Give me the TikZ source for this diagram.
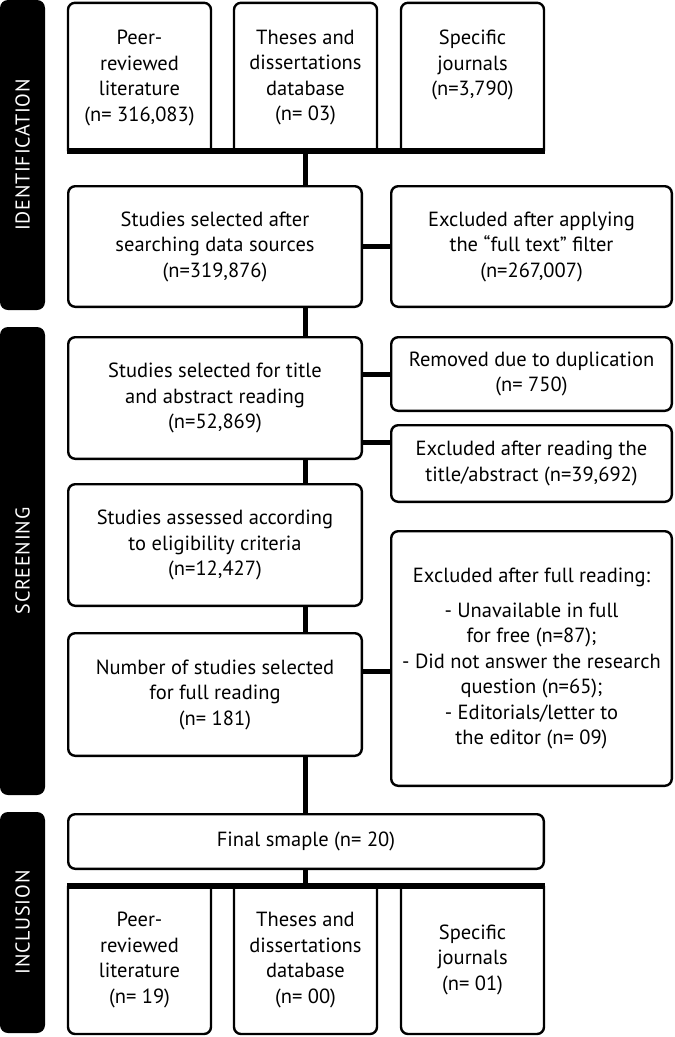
\documentclass[tikz,border=0pt]{standalone}
\usepackage{fontspec}
\setmainfont{PT Sans}
\newfontfamily\phasefont[LetterSpace=4]{PT Sans}
\newcommand\mtxt{\fontsize{20.5}{25.5}\selectfont}
\begin{document}
\begin{tikzpicture}[x=1pt,y=-1pt,
  boxline/.style={line width=2.4pt, rounded corners=7pt},
  box/.style={draw, line width=2.4pt, rounded corners=7pt, inner sep=0pt, align=center, font=\mtxt},
  holder/.style={inner sep=0pt, align=center, font=\mtxt},
  txt/.style={inner sep=0pt, align=center, font=\mtxt},
  link/.style={line width=5pt},
  spine/.style={line width=4.5pt},
  bar/.style={line width=6pt},
  phase/.style={fill=black, rounded corners=8pt, inner sep=0pt},
  phaselabel/.style={text=white, rotate=90, inner sep=0pt, font=\phasefont\fontsize{20}{24}\selectfont}
]
\useasboundingbox (0,0) rectangle (675,1037);

% phase bars
\node[phase, minimum width=45pt, minimum height=310pt] (p1) at (22.5,155) {};
\node[phase, minimum width=45pt, minimum height=468pt] (p2) at (22.5,561) {};
\node[phase, minimum width=45pt, minimum height=221pt] (p3) at (22.5,922.5) {};
\node[phaselabel] (p1l) at (p1.center) {IDENTIFICATION};
\node[phaselabel] (p2l) at (p2.center) {SCREENING};
\node[phaselabel] (p3l) at (p3.center) {INCLUSION};

% top source boxes
\node[holder, minimum width=142.6pt, minimum height=148pt] (t1) at (139.5,77) {};
\node[holder, minimum width=142.6pt, minimum height=148pt] (t2) at (305.5,77) {};
\node[holder, minimum width=142.6pt, minimum height=148pt] (t3) at (472.5,77) {};
\foreach \n in {t1,t2,t3}
  \draw[boxline] (\n.south west) -- (\n.north west) -- (\n.north east) -- (\n.south east);
\node[txt, anchor=north] (t1x) at ([yshift=-27pt]t1.north) {Peer-\\reviewed\\literature\\(n= 316,083)};
\node[txt, anchor=north] (t2x) at ([yshift=-27pt]t2.north) {Theses and\\dissertations\\database\\(n= 03)};
\node[txt, anchor=north] (t3x) at ([yshift=-27pt]t3.north) {Specific\\journals\\(n=3,790)};
\draw[bar] ([xshift=-1.2pt]t1.south west) -- ([xshift=1.2pt]t3.south east);
\coordinate (sp) at (t2.south);

% main column
\node[box, minimum width=293.6pt, minimum height=120.6pt] (a) at (215,246.5)
  {Studies selected after\\searching data sources\\(n=319,876)};
\node[box, minimum width=280.6pt, minimum height=120.6pt] (b) at (531.5,246.5)
  {Excluded after applying\\the “full text” filter\\(n=267,007)};
\node[box, minimum width=293.6pt, minimum height=121.6pt] (c) at (215,398)
  {Studies selected for title\\and abstract reading\\(n=52,869)};
\node[box, minimum width=280.6pt, minimum height=73.6pt] (d) at (531.5,374)
  {Removed due to duplication\\(n= 750)};
\node[box, minimum width=280.6pt, minimum height=76.6pt] (e) at (531.5,463.5)
  {Excluded after reading the\\title/abstract (n=39,692)};
\node[box, minimum width=293.6pt, minimum height=121.6pt] (f) at (215,545)
  {Studies assessed according\\to eligibility criteria\\(n=12,427)};
\node[box, minimum width=293.6pt, minimum height=122.6pt] (g) at (215,694.5)
  {Number of studies selected\\for full reading\\(n= 181)};
\node[box, minimum width=280.6pt, minimum height=254.6pt] (h) at (531.5,658.5)
  {Excluded after full reading:\\[9pt]- Unavailable in full\\for free (n=87);\\- Did not answer the research\\question (n=65);\\- Editorials/letter to\\the editor (n= 09)};
\node[box, minimum width=475.6pt, minimum height=54.6pt] (fin) at (306,841.5)
  {Final smaple (n= 20)};

% bottom boxes
\node[holder, minimum width=142.6pt, minimum height=147.8pt] (b1) at (139.5,959.9)
  {Peer-\\reviewed\\literature\\(n= 19)};
\node[holder, minimum width=142.6pt, minimum height=147.8pt] (b2) at (305.5,959.9)
  {Theses and\\dissertations\\database\\(n= 00)};
\node[holder, minimum width=142.6pt, minimum height=147.8pt] (b3) at (472.5,959.9)
  {Specific\\journals\\(n= 01)};
\foreach \n in {b1,b2,b3}
  \draw[boxline] (\n.north west) -- (\n.south west) -- (\n.south east) -- (\n.north east);
\draw[bar] ([xshift=-1.2pt]b1.north west) -- ([xshift=1.2pt]b3.north east);

% connectors
\draw[spine] (sp) -- (sp |- a.north);
\draw[spine] (sp |- a.south) -- (sp |- c.north);
\draw[spine] (sp |- c.south) -- (sp |- f.north);
\draw[spine] (sp |- f.south) -- (sp |- g.north);
\draw[spine] (sp |- g.south) -- (sp |- fin.north);
\draw[spine] (sp |- fin.south) -- (sp |- b2.north);
\draw[link] (a.east) -- (a.east -| b.west);
\draw[link] (d.west -| c.east) -- (d.west);
\draw[link] ([yshift=21.5pt]e.west -| c.east) -- ([yshift=21.5pt]e.west);
\draw[link] ([yshift=-12.5pt]h.west -| g.east) -- ([yshift=-12.5pt]h.west);
\end{tikzpicture}
\end{document}
